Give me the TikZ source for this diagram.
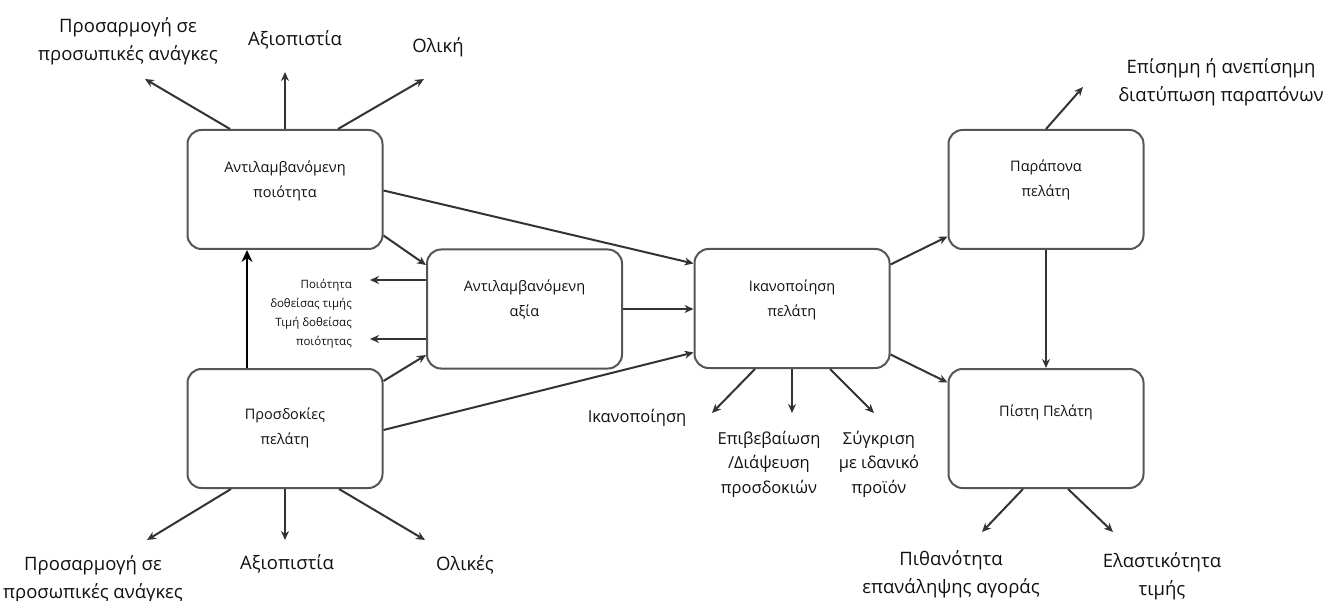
\documentclass[tikz,border=0pt]{standalone}
\usepackage{fontspec}
\setmainfont{Open Sans}
\usetikzlibrary{arrows.meta,calc}

\definecolor{boxgray}{HTML}{555555}
\definecolor{linegray}{HTML}{333333}
\definecolor{ink}{HTML}{111111}

\tikzset{
  box/.style={draw=boxgray, line width=2pt, rounded corners=14pt,
    minimum width=195pt, minimum height=119pt, inner sep=0pt},
  boxtext/.style={align=center, text=ink, inner sep=0pt,
    font=\fontsize{14.5}{25}\selectfont},
  lbl/.style={align=center, text=ink, inner sep=0pt,
    font=\fontsize{18.5}{28}\selectfont},
  midlbl/.style={align=center, text=ink, inner sep=0pt,
    font=\fontsize{16.5}{24.5}\selectfont},
  smalllbl/.style={align=right, text=ink, inner sep=0pt, anchor=east,
    font=\fontsize{11.5}{19}\selectfont},
  conn/.style={draw=linegray, line width=2pt,
    -{Stealth[length=9pt,width=8pt]}},
  bigconn/.style={draw=black, line width=2pt,
    -{Stealth[length=12pt,width=11pt]}},
}

\begin{document}
\begin{tikzpicture}[x=1pt,y=-1pt]
\useasboundingbox[fill=white] (0,0) rectangle (1327,601);

% main boxes
\node[box] (A) at (285,189.5) {};
\node[box] (B) at (524.5,309) {};
\node[box] (C) at (285,428.5) {};
\node[box] (D) at (792,308.5) {};
\node[box] (E) at (1046,189.5) {};
\node[box] (F) at (1046,428.5) {};

% box captions
\node[boxtext] (At) at (285,181) {Αντιλαμβανόμενη\\ποιότητα};
\node[boxtext] (Bt) at (524.5,300) {Αντιλαμβανόμενη\\αξία};
\node[boxtext] (Ct) at (285,428) {Προσδοκίες\\πελάτη};
\node[boxtext] (Dt) at (792,300) {Ικανοποίηση\\πελάτη};
\node[boxtext] (Et) at (1046,180) {Παράπονα\\πελάτη};
\node[boxtext] (Ft) at (1046,412) {Πίστη Πελάτη};

% outer labels
\node[lbl] (a1) at (128,41) {Προσαρμογή σε\\προσωπικές ανάγκες};
\node[lbl] (a2) at (295,40) {Αξιοπιστία};
\node[lbl] (a3) at (438,47) {Ολική};
\node[lbl] (e1) at (1221,82) {Επίσημη ή ανεπίσημη\\διατύπωση παραπόνων};
\node[smalllbl] (b1) at (352,294.5) {Ποιότητα\\δοθείσας τιμής};
\node[smalllbl] (b2) at (352,332.5) {Τιμή δοθείσας\\ποιότητας};
\node[midlbl] (d1) at (637,418) {Ικανοποίηση};
\node[midlbl] (d2) at (769,464) {Επιβεβαίωση\\/Διάψευση\\προσδοκιών};
\node[midlbl] (d3) at (879,464) {Σύγκριση\\με ιδανικό\\προϊόν};
\node[lbl] (c1) at (93,579) {Προσαρμογή σε\\προσωπικές ανάγκες};
\node[lbl] (c2) at (287,564) {Αξιοπιστία};
\node[lbl] (c3) at (465,565) {Ολικές};
\node[lbl] (f1) at (951,574) {Πιθανότητα\\επανάληψης αγοράς};
\node[lbl] (f2) at (1162,576) {Ελαστικότητα\\τιμής};

% free arrow ends
\coordinate (aTL) at (145,79);
\coordinate (aTM) at (285,72);
\coordinate (aTR) at (424,79);
\coordinate (bL1) at (370,280);
\coordinate (bL2) at (370,339);
\coordinate (eTR) at (1083,87);
\coordinate (dBL) at (712,413);
\coordinate (dBM) at (792,413);
\coordinate (dBR) at (874,413);
\coordinate (cBL) at (147,540);
\coordinate (cBM) at (285,540);
\coordinate (cBR) at (425,540);
\coordinate (fBL) at (982,532);
\coordinate (fBR) at (1113,532);
\coordinate (cUp) at ($(C.north)+(-38,0)$);

% perceived quality
\draw[conn] ($(A.north)+(-55,0)$) -- (aTL);
\draw[conn] (A.north) -- (aTM);
\draw[conn] ($(A.north)+(53,0)$) -- (aTR);
\draw[conn] ($(A.east)+(0,46)$) -- ($(B.west)+(0,-44)$);
\draw[conn] ($(A.east)+(0,1)$) -- ($(D.west)+(0,-45)$);

% expectations
\draw[bigconn] (cUp) -- (cUp |- A.south);
\draw[conn] ($(C.north east)+(0,13)$) -- ($(B.west)+(0,46)$);
\draw[conn] ($(C.east)+(0,1.5)$) -- ($(D.west)+(0,44)$);
\draw[conn] ($(C.south)+(-54,0)$) -- (cBL);
\draw[conn] (C.south) -- (cBM);
\draw[conn] ($(C.south)+(54,0)$) -- (cBR);

% perceived value
\draw[conn] ($(B.west)+(0,-29)$) -- (bL1);
\draw[conn] ($(B.west)+(0,30)$) -- (bL2);
\draw[conn] (B.east) -- (B.east -| D.west);

% satisfaction
\draw[conn] ($(D.east)+(0,-44)$) -- ($(E.west)+(0,47)$);
\draw[conn] ($(D.east)+(0,46)$) -- ($(F.west)+(0,-46)$);
\draw[conn] ($(D.south)+(-37,0)$) -- (dBL);
\draw[conn] (D.south) -- (dBM);
\draw[conn] ($(D.south)+(38,0)$) -- (dBR);

% complaints and loyalty
\draw[conn] (E.north) -- (eTR);
\draw[conn] (E.south) -- (E.south |- F.north);
\draw[conn] ($(F.south)+(-23,0)$) -- (fBL);
\draw[conn] ($(F.south)+(22,0)$) -- (fBR);
\end{tikzpicture}
\end{document}
